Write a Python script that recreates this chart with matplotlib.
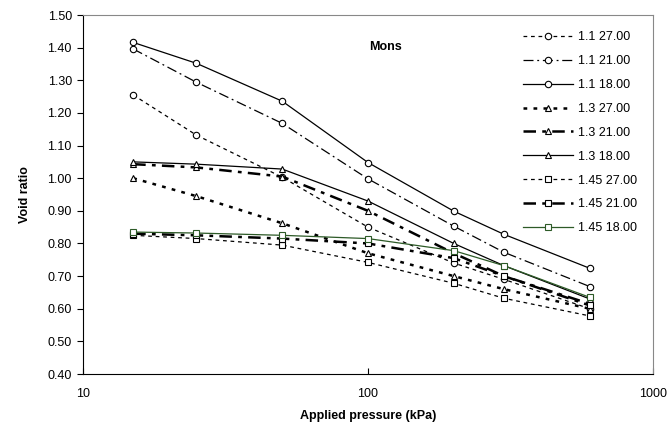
import matplotlib
matplotlib.use("Agg")
import matplotlib.pyplot as plt
import numpy as np

plt.rcParams['font.family'] = ['Liberation Sans', 'DejaVu Sans']

pressure = [15, 25, 50, 100, 200, 300, 600]

labels = ["1.1 27.00", "1.1 21.00", "1.1 18.00",
          "1.3 27.00", "1.3 21.00", "1.3 18.00",
          "1.45 27.00", "1.45 21.00", "1.45 18.00"]

e_11_27 = [1.255, 1.132, 1.003, 0.850, 0.740, 0.690, 0.600]
e_11_21 = [1.396, 1.294, 1.168, 0.998, 0.853, 0.773, 0.668]
e_11_18 = [1.416, 1.352, 1.236, 1.048, 0.899, 0.828, 0.724]
e_13_27 = [1.000, 0.945, 0.862, 0.770, 0.700, 0.660, 0.600]
e_13_21 = [1.043, 1.033, 1.005, 0.900, 0.770, 0.700, 0.615]
e_13_18 = [1.050, 1.043, 1.028, 0.930, 0.800, 0.732, 0.630]
e_145_27 = [0.825, 0.815, 0.795, 0.742, 0.678, 0.632, 0.578]
e_145_21 = [0.830, 0.825, 0.815, 0.800, 0.755, 0.700, 0.610]
e_145_18 = [0.835, 0.832, 0.825, 0.815, 0.778, 0.732, 0.635]

series = [e_11_27, e_11_21, e_11_18, e_13_27, e_13_21, e_13_18,
          e_145_27, e_145_21, e_145_18]

# line style, width, marker, colour
styles = [
    ((0, (3, 3)), 0.9, 'o', 'black'),
    ((0, (8, 3, 1.5, 3)), 0.9, 'o', 'black'),
    ('-', 0.9, 'o', 'black'),
    ((0, (1.5, 2.5)), 1.8, '^', 'black'),
    ((0, (5, 2.5, 1.5, 2.5)), 1.8, '^', 'black'),
    ('-', 0.9, '^', 'black'),
    ((0, (3, 3)), 0.9, 's', 'black'),
    ((0, (5, 2.5, 1.5, 2.5)), 1.8, 's', 'black'),
    ('-', 0.9, 's', '#2d5a27'),
]

fig = plt.figure(figsize=(6.7, 4.34), dpi=100)
ax = fig.add_axes([0.1239, 0.1382, 0.8507, 0.8272])

for lab, vals, (ls, lw, mk, col) in zip(labels, series, styles):
    ax.plot(pressure, vals, linestyle=ls, linewidth=lw, color=col,
            marker=mk, markersize=4.6, markerfacecolor='white',
            markeredgecolor=col, markeredgewidth=0.8, label=lab)

ax.set_xscale('log')
ax.set_xlim(10, 1000)
ax.set_ylim(0.4, 1.5)
ax.set_xticks([10, 100, 1000])
ax.set_xticklabels(['10', '100', '1000'])
ax.xaxis.set_minor_locator(matplotlib.ticker.NullLocator())
ax.set_yticks(np.arange(0.4, 1.501, 0.1))
ax.yaxis.set_major_formatter(matplotlib.ticker.FormatStrFormatter('%.2f'))
ax.tick_params(axis='y', direction='out', length=4, labelsize=9, pad=4)
ax.tick_params(axis='x', direction='in', length=4, labelsize=9, pad=10)

for s in ['top', 'right']:
    ax.spines[s].set_color('#888888')
for s in ['left', 'bottom']:
    ax.spines[s].set_color('black')

ax.set_xlabel('Applied pressure (kPa)', fontsize=9, fontweight='bold', labelpad=7)
ax.set_ylabel('Void ratio', fontsize=9, fontweight='bold', labelpad=12)

ax.text(0.53, 0.91, 'Mons', transform=ax.transAxes, fontsize=9,
        fontweight='bold', ha='center', va='center')

leg = ax.legend(loc='upper right', frameon=False, fontsize=9,
                handlelength=4.0, labelspacing=0.95, borderaxespad=0.9,
                handletextpad=0.4)

fig.savefig('out.png', dpi=100)
